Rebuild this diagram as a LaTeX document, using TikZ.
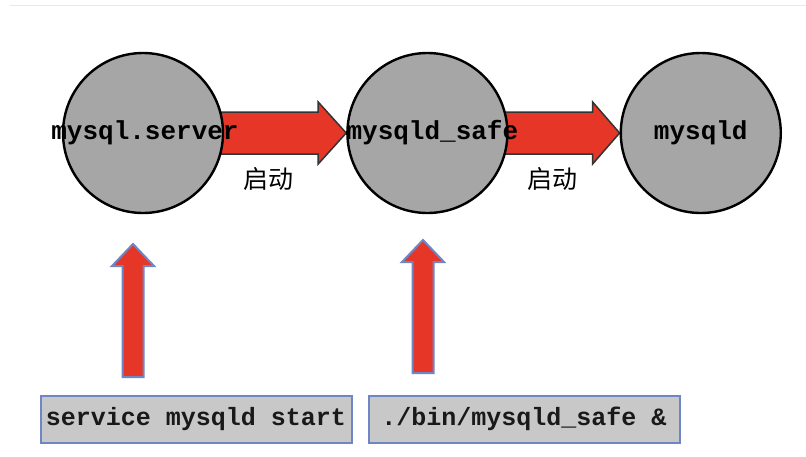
\documentclass[tikz,border=0pt]{standalone}
\usepackage{fontspec}
\setmonofont{Liberation Mono}
\newfontfamily\cjk{Noto Sans CJK SC}
\usepackage{tikz}
\usetikzlibrary{positioning,calc,backgrounds}
\definecolor{discgray}{RGB}{166,166,166}
\definecolor{boxgray}{RGB}{200,200,200}
\definecolor{boxblue}{RGB}{110,134,198}
\definecolor{arrowred}{RGB}{229,54,40}
\definecolor{rulegray}{RGB}{232,232,232}

\begin{document}
\begin{tikzpicture}[x=1pt,y=-1pt,node distance=120pt,
  font=\ttfamily\bfseries\fontsize{25}{30}\selectfont]
\tikzset{proc/.style={draw=black,line width=2.4pt,circle,fill=discgray,minimum size=160pt,inner sep=0pt,text=black!90},
  cmd/.style={draw=boxblue,line width=2pt,fill=boxgray,minimum width=311pt,minimum height=47pt,inner sep=0pt,text=black!90},
  hbar/.style={draw=black!80,line width=1.5pt,fill=arrowred,line join=miter},
  vbar/.style={draw=boxblue,line width=2pt,fill=arrowred,line join=miter},
  lbl/.style={font=\cjk\fontsize{25}{29}\selectfont,text=black}}
\useasboundingbox (0,0) rectangle (806,456);
\draw[rulegray,line width=1pt] (10,5) -- (806,5);
% processes
\node[proc] (server) at (143,133) {};
\node[proc,right=122pt of server] (safe) {};
\node[proc,right=111pt of safe] (mysqld) {};
% start arrows
\begin{scope}[on background layer]
\draw[hbar] ($(server.east)+(-4,-21)$) -- ($(safe.west)+(-28,-21)$) -- ($(safe.west)+(-28,-31)$)
  -- (safe.west) -- ($(safe.west)+(-28,31)$) -- ($(safe.west)+(-28,21)$) -- ($(server.east)+(-4,21)$) -- cycle;
\draw[hbar] ($(safe.east)+(-4,-21)$) -- ($(mysqld.west)+(-27,-21)$) -- ($(mysqld.west)+(-27,-31)$)
  -- (mysqld.west) -- ($(mysqld.west)+(-27,31)$) -- ($(mysqld.west)+(-27,21)$) -- ($(safe.east)+(-4,21)$) -- cycle;
\end{scope}
\node[font=\ttfamily\bfseries\fontsize{26}{30}\selectfont] at ($(server)+(2,0)$) {mysql.server};
\node[font=\ttfamily\bfseries\fontsize{26}{30}\selectfont] at ($(safe)+(5,0)$) {mysqld\_safe};
\node[font=\ttfamily\bfseries\fontsize{26}{30}\selectfont] at (mysqld) {mysqld};
\node[lbl] (go1) at (268,179) {启动};
\node[lbl] (go2) at (552,179) {启动};
% commands
\node[cmd] (svc) at (196,419) {service mysqld start};
\node[cmd,right=15pt of svc] (bin) {./bin/mysqld\_safe \&};
\coordinate (tip1) at (133,244);
\coordinate (tail1) at (133,377);
\coordinate (tip2) at (423,240);
\coordinate (tail2) at (423,373);
\draw[vbar] ($(tail1)+(-10.5,0)$) -- ($(tip1)+(-10.5,22)$) -- ($(tip1)+(-21,22)$) -- (tip1)
  -- ($(tip1)+(21,22)$) -- ($(tip1)+(10.5,22)$) -- ($(tail1)+(10.5,0)$) -- cycle;
\draw[vbar] ($(tail2)+(-10.5,0)$) -- ($(tip2)+(-10.5,22)$) -- ($(tip2)+(-21,22)$) -- (tip2)
  -- ($(tip2)+(21,22)$) -- ($(tip2)+(10.5,22)$) -- ($(tail2)+(10.5,0)$) -- cycle;
\end{tikzpicture}
\end{document}
